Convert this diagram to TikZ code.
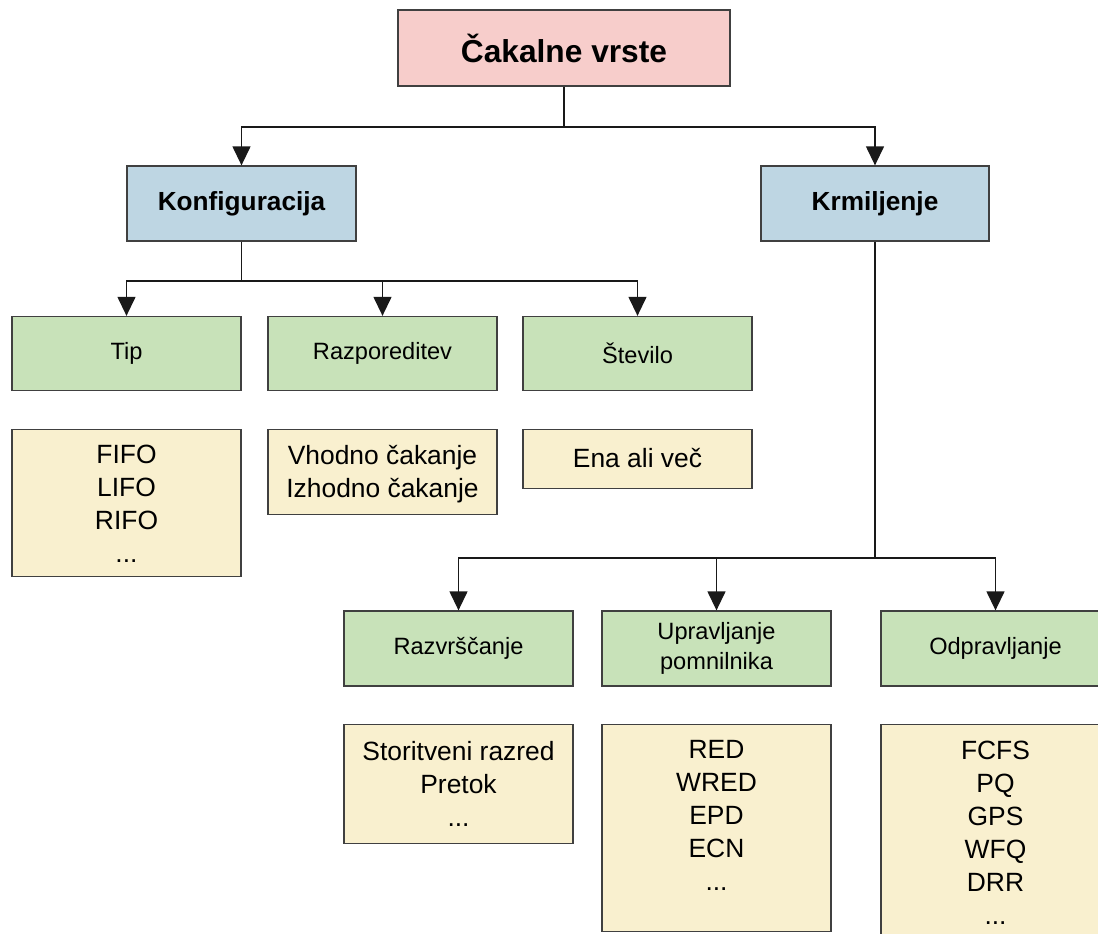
\documentclass[tikz,border=0pt]{standalone}
\usepackage{fontspec}
\setmainfont{Liberation Sans}
\usetikzlibrary{arrows.meta}

\definecolor{rootfill}{HTML}{F7CDCB}
\definecolor{catfill}{HTML}{BED6E3}
\definecolor{subfill}{HTML}{C8E2B9}
\definecolor{listfill}{HTML}{F9F0CF}
\definecolor{edge}{HTML}{404040}

\tikzset{
  boxbase/.style={draw=edge, line width=1.3pt, rectangle, inner sep=0pt, align=center},
  rootbox/.style={boxbase, fill=rootfill, minimum width=332pt, minimum height=76pt,
    font=\fontsize{31.7}{38}\selectfont\bfseries},
  catbox/.style={boxbase, fill=catfill, minimum width=229pt, minimum height=75pt,
    font=\fontsize{26.2}{32}\selectfont\bfseries},
  subbox/.style={boxbase, fill=subfill, minimum width=229pt, minimum height=74pt,
    font=\fontsize{23.6}{30}\selectfont},
  listbox/.style={boxbase, fill=listfill, minimum width=229pt, anchor=north},
  listtext/.style={anchor=north, inner sep=0pt, align=center,
    font=\fontsize{26.4}{33}\selectfont},
  conn/.style={line width=1.3pt, draw=black!90},
  arr/.style={conn, -{Triangle[length=19pt, width=18pt]}}
}

\begin{document}
\begin{tikzpicture}[x=1pt, y=-1pt]
  \clip (0,0) rectangle (1098,934);
  \fill[white] (0,0) rectangle (1098,934);

  % top level
  \node[rootbox] (root) at (564,48) {Čakalne vrste};

  % categories
  \node[catbox] (konf) at (241.5,203.5) {Konfiguracija};
  \node[catbox, minimum width=228pt] (krm) at (875,203.5) {Krmiljenje};

  % configuration branch
  \node[subbox] (tip) at (126.5,353.5) {Tip};
  \node[subbox] (razp) at (382.5,353.5) {Razporeditev};
  \node[subbox] (stev) at (637.5,353.5) {Število};

  \node[listbox, minimum height=147pt] (tipL) at (126.5,429) {};
  \node[listbox, minimum height=85pt] (razpL) at (382.5,429) {};
  \node[listbox, minimum height=59pt] (stevL) at (637.5,429) {};
  \node[listtext] (tipT) at ([yshift=-16pt]tipL.north) {FIFO\\LIFO\\RIFO\\...};
  \node[listtext] (razpT) at ([yshift=-16pt]razpL.north) {Vhodno čakanje\\Izhodno čakanje};
  \node[listtext] (stevT) at ([yshift=-19pt]stevL.north) {Ena ali več};

  % control branch
  \node[subbox, minimum height=75pt] (razv) at (458.5,648.5) {Razvrščanje};
  \node[subbox, minimum height=75pt] (upr) at (716.5,648.5) {Upravljanje\\pomnilnika};
  \node[subbox, minimum height=75pt] (odp) at (995.5,648.5) {Odpravljanje};

  \node[listbox, minimum height=119pt] (razvL) at (458.5,724) {};
  \node[listbox, minimum height=207pt] (uprL) at (716.5,724) {};
  \node[listbox, minimum height=240pt] (odpL) at (995.5,724) {};
  \node[listtext] (razvT) at ([yshift=-17pt]razvL.north) {Storitveni razred\\Pretok\\...};
  \node[listtext] (uprT) at ([yshift=-16pt]uprL.north) {RED\\WRED\\EPD\\ECN\\...};
  \node[listtext] (odpT) at ([yshift=-17pt]odpL.north) {FCFS\\PQ\\GPS\\WFQ\\DRR\\...};

  % junction points
  \coordinate (j1) at (564,127);
  \coordinate (j2) at (241.5,281);
  \coordinate (j3) at (875,558);

  % connectors
  \draw[conn] (root.south) -- (j1);
  \draw[arr] (j1) -| (konf.north);
  \draw[arr] (j1) -| (krm.north);

  \draw[conn] (konf.south) -- (j2);
  \draw[arr] (j2) -| (tip.north);
  \draw[arr] (j2) -| (razp.north);
  \draw[arr] (j2) -| (stev.north);

  \draw[conn] (krm.south) -- (j3);
  \draw[arr] (j3) -| (razv.north);
  \draw[arr] (j3) -| (upr.north);
  \draw[arr] (j3) -| (odp.north);
\end{tikzpicture}
\end{document}
